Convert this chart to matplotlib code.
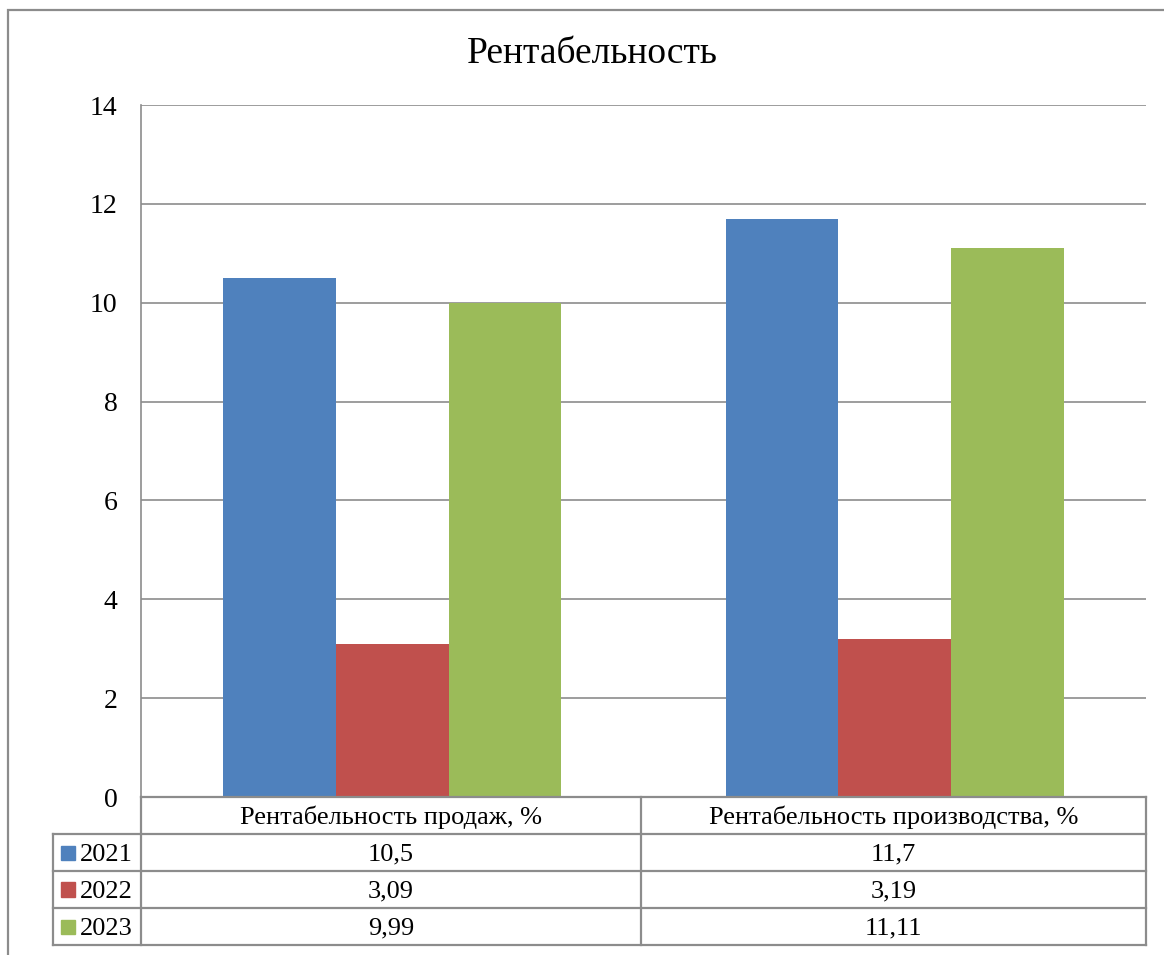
"""
Profitability chart: grouped bars with a data table underneath
"""

import matplotlib.pyplot as plt
from matplotlib.lines import Line2D
from matplotlib.patches import Rectangle
import numpy as np

plt.rcParams["font.family"] = ["Liberation Serif", "DejaVu Serif"]

categories = ["Рентабельность продаж, %", "Рентабельность производства, %"]
years = ["2021", "2022", "2023"]
values = {
    "2021": [10.5, 11.7],
    "2022": [3.09, 3.19],
    "2023": [9.99, 11.11],
}
colors = ["#4F81BD", "#C0504D", "#9BBB59"]

W, H = 1164, 955
fig = plt.figure(figsize=(W / 100, H / 100), dpi=100)


def fx(px):
    return px / W


def fy(py):
    return 1 - py / H


# outer chart frame (runs off the right and bottom edges)
fig.patches.append(Rectangle((fx(8), fy(1000)), fx(1200 - 8), fy(10) - fy(1000),
                             transform=fig.transFigure, fill=False,
                             edgecolor="#8c8c8c", linewidth=1.6))

left, right, top, bottom = 141, 1146, 105, 797
ax = fig.add_axes([fx(left), fy(bottom), fx(right - left), fy(top) - fy(bottom)])

x = np.arange(len(categories))
width = 0.224
for i, year in enumerate(years):
    ax.bar(x + (i - 1) * width, values[year], width, color=colors[i], zorder=3)

ax.set_xlim(-0.5, len(categories) - 0.5)
ax.set_ylim(0, 14)
ax.set_yticks(np.arange(0, 15, 2))
ax.set_xticks([])
ax.tick_params(axis="y", length=0, pad=17, labelsize=20)
ax.grid(axis="y", color="#8c8c8c", linewidth=1.2, zorder=0)
for side in ["top", "right", "bottom"]:
    ax.spines[side].set_visible(False)
ax.spines["left"].set_color("#8c8c8c")
ax.spines["left"].set_linewidth(1.2)

fig.text(fx(592), fy(54), "Рентабельность", ha="center", va="center",
         fontsize=27)

# data table under the plot
line_kw = dict(color="#8c8c8c", linewidth=1.6, transform=fig.transFigure)
col_edges = [53, 141, 641, 1146]
row_edges = [797, 834, 871, 908, 945]
text_shift = 2  # text sits slightly below the row middle


def hline(y, x0, x1):
    fig.add_artist(Line2D([fx(x0), fx(x1)], [fy(y), fy(y)], **line_kw))


def vline(x_, y0, y1):
    fig.add_artist(Line2D([fx(x_), fx(x_)], [fy(y0), fy(y1)], **line_kw))


hline(row_edges[0], col_edges[1], col_edges[3])
for y in row_edges[1:]:
    hline(y, col_edges[0], col_edges[3])
vline(col_edges[0], row_edges[1], row_edges[-1])
for c in col_edges[1:]:
    vline(c, row_edges[0], row_edges[-1])

for j, cat in enumerate(categories):
    cx = (col_edges[j + 1] + col_edges[j + 2]) / 2
    cy = (row_edges[0] + row_edges[1]) / 2 + text_shift
    fig.text(fx(cx), fy(cy), cat, ha="center", va="center", fontsize=19)

for i, year in enumerate(years):
    cy = (row_edges[i + 1] + row_edges[i + 2]) / 2
    fig.patches.append(Rectangle((fx(61), fy(cy + 7)), fx(14), fy(cy - 7) - fy(cy + 7),
                                 transform=fig.transFigure, color=colors[i]))
    fig.text(fx(80), fy(cy + text_shift), year, ha="left", va="center", fontsize=19)
    for j in range(len(categories)):
        cx = (col_edges[j + 1] + col_edges[j + 2]) / 2
        label = f"{values[year][j]:g}".replace(".", ",")
        fig.text(fx(cx), fy(cy + text_shift), label, ha="center", va="center",
                 fontsize=19)

fig.savefig("out.png", dpi=100)
plt.close(fig)
